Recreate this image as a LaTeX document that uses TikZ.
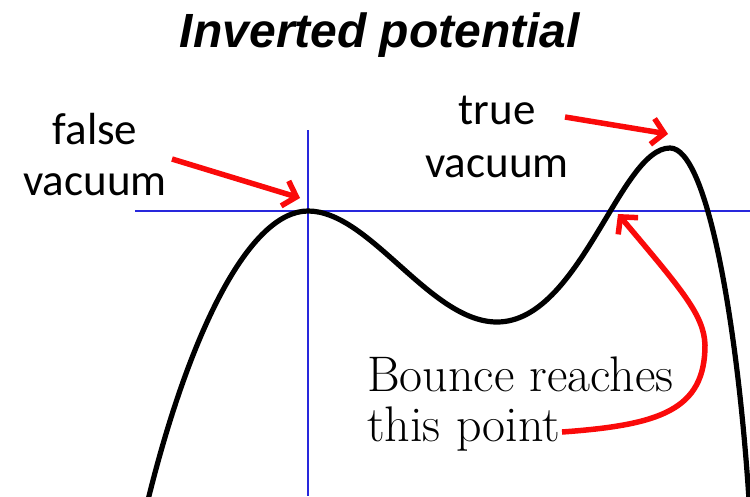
\documentclass[tikz,border=0pt]{standalone}
\usepackage{fontspec}
\newfontfamily\calfont{Carlito}
\newfontfamily\arialfont{Liberation Sans}
\usetikzlibrary{arrows.meta}
\definecolor{axisblue}{RGB}{40,40,220}
\definecolor{arrowred}{RGB}{250,10,10}
\tikzset{
  axisline/.style={draw=axisblue,line width=2.2pt},
  potline/.style={draw=black,line width=5.2pt},
  redarrow/.style={draw=arrowred,line width=5.5pt,-{Straight Barb[length=12pt,width=26pt,line width=5.5pt]}},
  sanslabel/.style={font=\calfont\fontsize{45}{54}\selectfont,inner sep=0pt},
  serlabel/.style={font=\fontsize{50}{58}\selectfont,inner sep=0pt}
}
\begin{document}
\begin{tikzpicture}[x=1pt,y=-1pt]
\useasboundingbox (0,0) rectangle (750,496);
% title
\node[font=\arialfont\bfseries\itshape\fontsize{48}{56}\selectfont,inner sep=0pt,anchor=base] (title) at (380,47) {Inverted potential};
% axes
\coordinate (vtop) at (308,130);
\coordinate (vbot) at (308,496);
\coordinate (hleft) at (135,211);
\coordinate (hright) at (750,211);
\draw[axisline] (vtop) -- (vbot);
\draw[axisline] (hleft) -- (hright);
% potential
\coordinate (fv) at (308,211);
\coordinate (mn) at (497,322);
\coordinate (tv) at (670,148);
\coordinate (bp) at (614,212);
\draw[potline] (148,500) .. controls (190,330) and (250,211) .. (fv)
  .. controls (370,211) and (430,322) .. (mn)
  .. controls (580,322) and (620,148) .. (tv)
  .. controls (708,148) and (738,330) .. (749,500);
% labels
\node[sanslabel,anchor=base] (false) at (95,144) {false};
\node[sanslabel,anchor=base] (vac1) at (95,195) {vacuum};
\node[sanslabel,anchor=base] (true) at (497,124) {true};
\node[sanslabel,anchor=base] (vac2) at (497,177) {vacuum};
\node[serlabel,anchor=base west] (bounce) at (367,391) {Bounce reaches};
\node[serlabel,anchor=base west] (this) at (367,441) {this point};
% arrows
\coordinate (a1s) at (172,159);
\coordinate (a1e) at (300,198);
\coordinate (a2s) at (565,117);
\coordinate (a2e) at (668,134);
\coordinate (a3s) at (562,432);
\coordinate (a3m) at (705,345);
\coordinate (a3e) at (618,214);
\draw[redarrow] (a1s) -- (a1e);
\draw[redarrow] (a2s) -- (a2e);
\draw[redarrow] (a3s) .. controls (660,425) and (705,410) .. (a3m)
  .. controls (704,315) and (682,290) .. (a3e);
\end{tikzpicture}
\end{document}
